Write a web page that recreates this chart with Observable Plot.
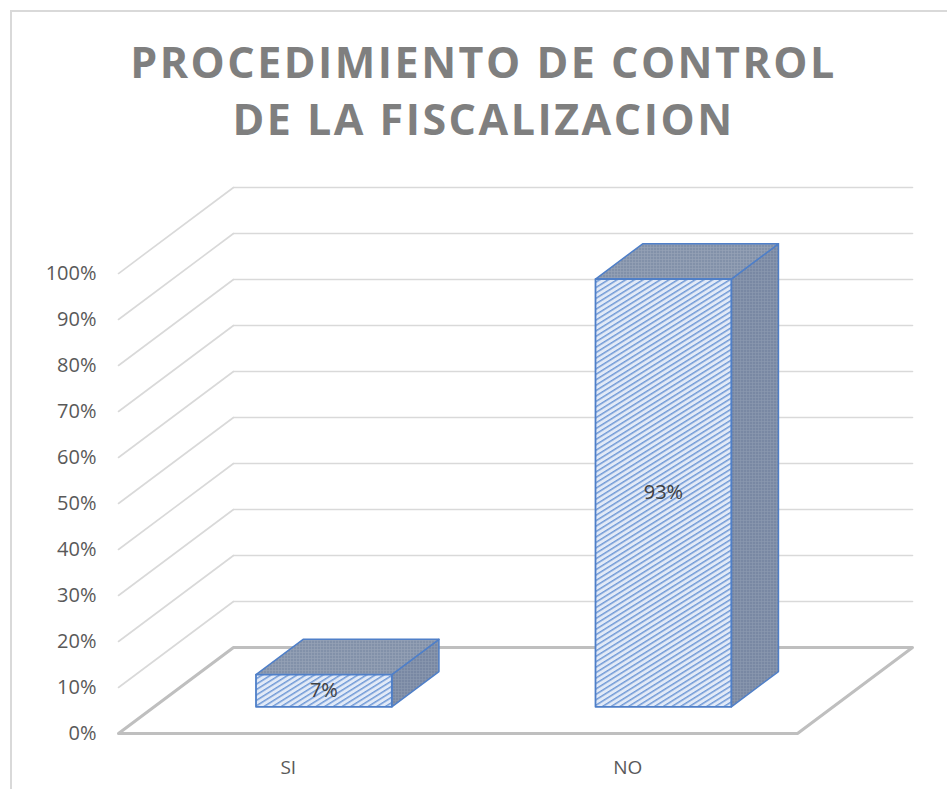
<!DOCTYPE html>
<html>
<head>
<meta charset="utf-8">
<script src="https://cdn.jsdelivr.net/npm/d3@7"></script>
<script src="https://cdn.jsdelivr.net/npm/@observablehq/plot@0.6"></script>
<style>
  html, body { margin: 0; padding: 0; background: #fff; overflow: hidden; }
  #wrap { position: relative; width: 947px; height: 789px; overflow: hidden; }
  #frame { position: absolute; left: 10px; top: 10px; width: 1100px; height: 1100px; border: 2px solid #d9d9d9; box-sizing: border-box; }
  #title { position: relative; height: 170px; box-sizing: border-box; padding-top: 33px; padding-left: 20px;
           text-align: center; font-family: "Open Sans", sans-serif; font-weight: 700; font-size: 43px;
           line-height: 57px; letter-spacing: 2.5px; color: #7f7f7f; }
  #chart { position: relative; }
</style>
</head>
<body>
<div id="wrap">
  <div id="frame"></div>
  <div id="title">PROCEDIMIENTO DE CONTROL<br>DE LA FISCALIZACION</div>
  <div id="chart"></div>
</div>
<script>
// ---- data ----
const categories = ["SI", "NO"];
const values = [7, 93];            // percent
const valueLabels = ["7%", "93%"];
const yTicks = [0, 10, 20, 30, 40, 50, 60, 70, 80, 90, 100];

// ---- 3D layout parameters (in scale units) ----
const DX = 0.3387;   // depth shift along x (category units)
const DY = 18.7;     // depth shift along y (percent units)
const d0 = 0.31, d1 = 0.72;  // bar depth position (fraction of floor depth)
const barW = 0.4;            // bar width (fraction of category)
const nCat = categories.length;

// walls / floor
const backGrid = yTicks.filter(t => t > 0).flatMap(t => [
  {id: "b" + t, x: DX, y: t + DY}, {id: "b" + t, x: nCat + DX, y: t + DY}
]);
const sideGrid = yTicks.filter(t => t > 0).flatMap(t => [
  {id: "s" + t, x: 0, y: t}, {id: "s" + t, x: DX, y: t + DY}
]);
const floorPts = [
  {x: 0, y: 0}, {x: DX, y: DY}, {x: nCat + DX, y: DY}, {x: nCat, y: 0}
];

// bar faces
const frontFaces = [], topFaces = [], sideFaces = [], valueLabelPts = [];
values.forEach((v, i) => {
  const u0 = i + (1 - barW) / 2, u1 = u0 + barW;
  const fx = d0 * DX, fy = d0 * DY, bx = d1 * DX, by = d1 * DY;
  const id = categories[i];
  frontFaces.push({id, x: u0 + fx, y: fy}, {id, x: u1 + fx, y: fy}, {id, x: u1 + fx, y: v + fy}, {id, x: u0 + fx, y: v + fy});
  topFaces.push({id, x: u0 + fx, y: v + fy}, {id, x: u1 + fx, y: v + fy}, {id, x: u1 + bx, y: v + by}, {id, x: u0 + bx, y: v + by});
  sideFaces.push({id, x: u1 + fx, y: fy}, {id, x: u1 + bx, y: by}, {id, x: u1 + bx, y: v + by}, {id, x: u1 + fx, y: v + fy});
  valueLabelPts.push({x: (u0 + u1) / 2 + fx, y: v / 2 + fy, text: valueLabels[i]});
});
const catLabels = categories.map((c, i) => ({x: i + 0.5, y: 0, text: c}));

const plot = Plot.plot({
  width: 947,
  height: 619,
  marginLeft: 118,
  marginRight: 35,
  marginTop: 17,
  marginBottom: 56,
  x: {domain: [0, nCat + DX], axis: null},
  y: {domain: [0, 100 + DY], label: null},
  style: {fontFamily: "'Open Sans', sans-serif", fontSize: "20px", color: "#595959", background: "transparent", overflow: "visible"},
  marks: [
    Plot.axisY(yTicks, {tickSize: 0, tickPadding: 22, tickFormat: d => d + "%", label: null, fontSize: 20, fill: "#595959"}),
    Plot.line(backGrid, {x: "x", y: "y", z: "id", stroke: "#d9d9d9", strokeWidth: 1.6}),
    Plot.line(sideGrid, {x: "x", y: "y", z: "id", stroke: "#d9d9d9", strokeWidth: 1.6}),
    Plot.line(floorPts, {x: "x", y: "y", curve: "linear-closed", fill: "white", stroke: "#bfbfbf", strokeWidth: 3}),
    Plot.line(sideFaces, {x: "x", y: "y", z: "id", curve: "linear-closed", fill: "url(#pSide)", stroke: "#4f7fc8", strokeWidth: 1.5}),
    Plot.line(topFaces, {x: "x", y: "y", z: "id", curve: "linear-closed", fill: "url(#pTop)", stroke: "#4f7fc8", strokeWidth: 1.5}),
    Plot.line(frontFaces, {x: "x", y: "y", z: "id", curve: "linear-closed", fill: "url(#pFront)", stroke: "#4f7fc8", strokeWidth: 1.8}),
    Plot.text(valueLabelPts, {x: "x", y: "y", text: "text", fontSize: 20, fill: "#404040"}),
    Plot.text(catLabels, {x: "x", y: "y", text: "text", dy: 34, fontSize: 19, fill: "#595959"})
  ]
});

d3.select(plot).insert("defs", ":first-child").html(`
  <pattern id="pFront" patternUnits="userSpaceOnUse" width="8" height="4.6" patternTransform="rotate(-32)">
    <rect width="8" height="4.6" fill="#e2eaf7"/>
    <rect y="0" width="8" height="1.5" fill="#7099d6"/>
  </pattern>
  <pattern id="pSide" patternUnits="userSpaceOnUse" width="3" height="3">
    <rect width="3" height="3" fill="#808ea7"/>
    <rect width="1" height="1" fill="#5a6c90"/>
    <rect x="1.5" y="1.5" width="1" height="1" fill="#a5b1c5"/>
  </pattern>
  <pattern id="pTop" patternUnits="userSpaceOnUse" width="3" height="3">
    <rect width="3" height="3" fill="#8b98ae"/>
    <rect width="1" height="1" fill="#5f7193"/>
    <rect x="1.5" y="1.5" width="1" height="1" fill="#b0bbcb"/>
  </pattern>
`);

document.getElementById("chart").appendChild(plot);
</script>
</body>
</html>
